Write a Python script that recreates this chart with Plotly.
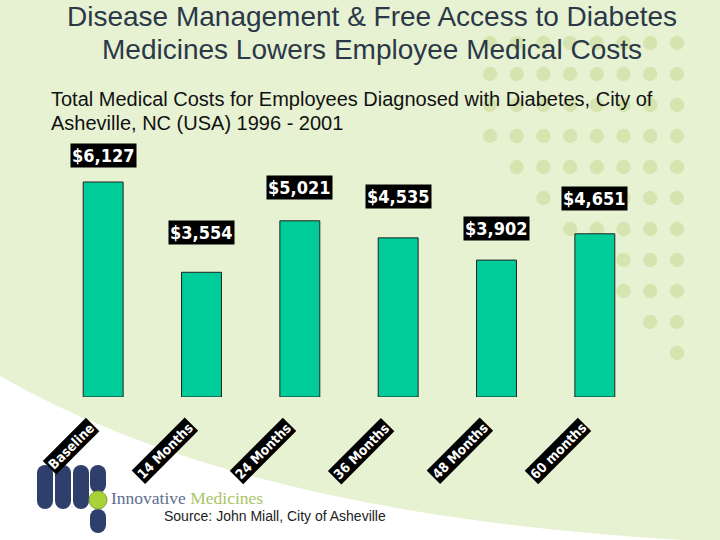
import plotly.graph_objects as go

# ---- data ----
categories = ["Baseline", "14 Months", "24 Months", "36 Months", "48 Months", "60 months"]
costs = [6127, 3554, 5021, 4535, 3902, 4651]
value_labels = ["$6,127", "$3,554", "$5,021", "$4,535", "$3,902", "$4,651"]
label_lift = [27, 40, 33, 41, 32, 35]  # px above bar top (style)

title_lines = ["Disease Management & Free Access to Diabetes",
               "Medicines Lowers Employee Medical Costs"]
subtitle_lines = ["Total Medical Costs for Employees Diagnosed with Diabetes, City of",
                  "Asheville, NC (USA) 1996 - 2001"]
source_text = "Source: John Miall, City of Asheville"

W, H = 720, 540
def fx(x):
    return x / W
def fy(y):
    return 1 - y / H

BG = "#E7F2D3"
DOT = "#D6E4B0"
NAVY = "#2F3F6B"
LABEL_FONT = "DejaVu Sans Condensed, Liberation Sans Narrow, DejaVu Sans"

fig = go.Figure()
fig.add_trace(go.Bar(
    x=categories, y=costs,
    marker=dict(color="#00CC99", line=dict(color="#222222", width=1)),
    hoverinfo="skip",
))

shapes = []
# white curved area bottom-left
shapes.append(dict(type="path", xref="paper", yref="paper", layer="below",
                   path=f"M 0 {fy(376)} Q {fx(250)} {fy(520)} 1 {fy(542)} L 1 0 L 0 0 Z",
                   fillcolor="white", line=dict(width=0)))

# decorative dot grid (top right)
col_x = [490 + 26.7 * i for i in range(8)]
row_y = [43 + 31 * j for j in range(11)]
row_start = [0, 0, 0, 0, 1, 2, 3, 4, 5, 6, 7]
r = 7.2
for j, y in enumerate(row_y):
    for i in range(row_start[j], 8):
        x = col_x[i]
        shapes.append(dict(type="circle", xref="paper", yref="paper", layer="below",
                           x0=fx(x - r), x1=fx(x + r), y0=fy(y + r), y1=fy(y - r),
                           fillcolor=DOT, line=dict(width=0)))

# logo pills
def pill(x0, x1, y0, y1, color):
    rr = (x1 - x0) / 2
    out = [dict(type="rect", xref="paper", yref="paper", layer="above",
                x0=fx(x0), x1=fx(x1), y0=fy(y1 - rr), y1=fy(y0 + rr),
                fillcolor=color, line=dict(width=0))]
    for cy in (y0 + rr, y1 - rr):
        out.append(dict(type="circle", xref="paper", yref="paper", layer="above",
                        x0=fx(x0), x1=fx(x1), y0=fy(cy + rr), y1=fy(cy - rr),
                        fillcolor=color, line=dict(width=0)))
    return out

for (a, b) in [(37, 53), (55, 71), (73, 89)]:
    shapes += pill(a, b, 465, 509, NAVY)
shapes += pill(90, 106, 465, 493, NAVY)
shapes += pill(90, 106, 509, 533, NAVY)
shapes.append(dict(type="circle", xref="paper", yref="paper", layer="above",
                   x0=fx(89), x1=fx(107), y0=fy(509), y1=fy(491),
                   fillcolor="#A9D13A", line=dict(color="#7FA92A", width=1)))

annotations = []
# value labels
for c, v, t, d in zip(categories, costs, value_labels, label_lift):
    annotations.append(dict(x=c, y=v, xref="x", yref="y", text=f"<b>{t}</b>",
                            showarrow=False, yshift=d, xanchor="center", yanchor="middle",
                            font=dict(family=LABEL_FONT, size=18, color="white"),
                            bgcolor="black", borderpad=1))
# rotated category labels
for c in categories:
    annotations.append(dict(x=c, y=0, xref="x", yref="y", text=f"<b>{c}</b>",
                            showarrow=False, textangle=-45, xanchor="right", yanchor="top",
                            xshift=-3, yshift=-20,
                            font=dict(family=LABEL_FONT, size=13.5, color="white"),
                            bgcolor="black", borderpad=1))
# title (two lines)
for yy, line in zip([17, 49], title_lines):
    annotations.append(dict(x=fx(372), y=fy(yy), xref="paper", yref="paper", text=line,
                            showarrow=False, xanchor="center", yanchor="middle",
                            font=dict(family="Liberation Sans, Arial", size=28, color="#2B3848")))
# subtitle (two lines)
for yy, line in zip([99, 123], subtitle_lines):
    annotations.append(dict(x=fx(49), y=fy(yy), xref="paper", yref="paper", text=line,
                            showarrow=False, xanchor="left", yanchor="middle",
                            font=dict(family="Liberation Sans, Arial", size=20, color="#111111")))
# logo text
annotations.append(dict(x=fx(109), y=fy(498), xref="paper", yref="paper",
                        text="<span style='color:#5E6E8C'>Innovative</span> <span style='color:#A9C465'>Medicines</span>",
                        showarrow=False, xanchor="left", yanchor="middle",
                        font=dict(family="Liberation Serif, Times New Roman", size=17.5)))
# source
annotations.append(dict(x=fx(162), y=fy(516), xref="paper", yref="paper", text=source_text,
                        showarrow=False, xanchor="left", yanchor="middle",
                        font=dict(family="Liberation Sans, Arial", size=14, color="#222222")))

px_per_unit = 215 / 6127
y_top_px = 150
y_zero_px = 397
ymax = (y_zero_px - y_top_px) / px_per_unit

fig.update_layout(
    width=W, height=H,
    margin=dict(l=0, r=0, t=0, b=0),
    paper_bgcolor=BG, plot_bgcolor="rgba(0,0,0,0)",
    showlegend=False,
    bargap=0.594,
    xaxis=dict(domain=[fx(54), fx(644)], range=[-0.5, 5.5], showticklabels=False, showgrid=False,
               zeroline=False, showline=False, fixedrange=True),
    yaxis=dict(domain=[fy(y_zero_px), fy(y_top_px)], range=[0, ymax], showticklabels=False,
               showgrid=False, zeroline=False, showline=False, fixedrange=True),
    shapes=shapes,
    annotations=annotations,
)

fig.write_html("out.html", config={"displayModeBar": False},
               post_script="document.body.style.margin='0';")
